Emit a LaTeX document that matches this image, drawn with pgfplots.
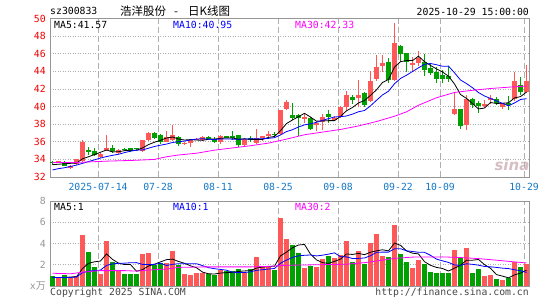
\documentclass[border=0pt]{standalone}
\usepackage{pgfplots}
\pgfplotsset{compat=1.18}
\usepackage{pgfplotstable}
\usepackage{fontspec}
\setmainfont{DejaVu Sans Mono}
\newfontfamily\mono{DejaVu Sans Mono}
\newfontfamily\cjk{Noto Sans CJK SC}
\newfontfamily\sansf{DejaVu Sans}
\newcommand\tf{\fontsize{9.8}{11}\mono}
\definecolor{upred}{RGB}{255,88,88}
\definecolor{dngreen}{RGB}{0,160,0}
\definecolor{maten}{RGB}{0,0,255}
\definecolor{mathirty}{RGB}{255,0,255}
\definecolor{framegray}{RGB}{150,150,150}
\definecolor{gridgray}{RGB}{175,175,175}
\definecolor{datecol}{RGB}{20,120,200}
\definecolor{tickred}{RGB}{240,0,0}
\definecolor{tickgray}{RGB}{150,150,150}
\definecolor{txtgray}{RGB}{70,70,70}
\definecolor{logocol}{RGB}{215,190,195}

\pgfplotstableread{
i O H L C V
2 33.65 33.85 33.6 33.8 0.76
4 33.05 33.35 32.95 33.3 0.76
5 33.45 34.05 33.35 34.0 0.91
6 33.8 36.2 33.75 36.0 4.79
9 34.3 34.7 34.2 34.58 1.13
10 35.1 36.8 34.95 35.3 4.22
12 34.7 35.15 34.6 35.05 1.39
16 34.95 36.25 34.85 36.2 3.0
17 36.2 37.15 36.1 36.95 3.09
20 36.0 37.2 35.95 36.55 2.14
21 36.2 37.95 36.1 36.75 3.28
23 35.8 35.95 35.6 35.9 1.1
24 35.85 36.3 35.45 36.25 1.0
25 36.25 36.4 36.15 36.3 1.23
26 36.2 36.6 36.15 36.55 1.23
29 36.0 36.75 35.8 36.65 1.48
33 35.6 36.4 35.5 36.35 1.23
35 35.9 37.5 35.8 36.45 2.71
36 36.55 36.7 36.05 36.6 1.8
37 36.75 37.2 36.3 36.8 1.8
39 36.9 39.65 36.8 39.6 6.43
40 39.7 40.8 39.6 40.5 4.44
43 38.7 39.2 38.1 38.75 1.7
45 37.9 38.35 37.25 38.15 1.76
46 38.25 39.2 37.3 38.8 2.52
48 38.45 38.9 38.4 38.75 2.65
49 38.85 40.1 38.75 39.95 2.9
50 39.95 41.8 39.6 41.3 4.25
52 41.0 43.0 40.0 41.35 3.28
54 40.6 44.0 40.5 42.85 4.06
55 43.15 45.9 42.95 44.45 4.88
56 44.55 45.8 43.9 44.9 2.8
58 43.0 49.45 42.9 47.2 5.73
61 44.85 45.6 43.9 44.9 1.7
62 44.9 46.35 44.6 45.5 2.43
68 39.1 41.7 39.0 39.7 3.37
70 37.95 41.35 37.35 40.9 3.62
73 40.15 40.75 39.8 40.2 0.91
74 40.7 41.35 40.25 40.95 1.0
76 39.95 40.4 39.75 40.35 0.54
78 40.9 43.9 40.6 42.95 2.27
80 41.7 44.75 41.5 42.95 2.05
}\upT

\pgfplotstableread{
i O H L C V
1 33.75 33.85 33.4 33.55 0.91
3 33.7 33.8 33.2 33.25 1.0
7 35.05 35.45 34.55 34.95 3.18
8 34.95 35.25 34.4 34.5 1.76
11 35.35 35.6 34.7 34.9 2.27
13 35.15 35.25 34.95 35.1 1.1
14 35.25 35.35 34.8 34.9 1.1
15 35.3 35.35 35.1 35.25 1.1
18 37.0 37.1 36.3 36.45 1.98
19 36.75 36.9 35.8 36.0 2.17
22 36.55 36.65 35.55 35.8 2.0
27 36.5 36.65 36.35 36.45 1.17
28 36.35 36.55 35.9 36.0 1.0
30 36.6 36.7 36.45 36.55 1.42
31 36.6 37.2 36.2 36.55 1.39
32 36.75 36.8 35.45 35.6 1.57
34 36.35 36.6 35.95 36.3 1.57
38 36.9 37.1 36.6 36.85 1.48
41 39.0 40.4 38.45 38.65 3.84
42 39.0 39.2 36.65 38.65 3.12
44 38.7 38.8 37.3 37.5 1.89
47 39.2 39.6 38.15 38.8 2.8
51 41.1 41.3 40.3 40.7 2.27
53 41.5 41.6 40.0 40.15 2.05
57 45.1 45.5 42.65 43.0 2.74
59 46.9 47.0 45.2 45.95 2.99
60 46.05 46.05 43.9 45.05 2.27
63 45.05 46.0 43.45 44.1 2.05
64 44.35 44.85 43.6 43.8 1.32
65 43.98 44.5 42.7 43.1 1.23
66 43.6 44.1 42.7 43.15 1.23
67 43.45 44.65 42.8 43.1 1.23
69 39.7 39.7 37.5 37.8 2.68
71 40.9 40.95 39.85 40.2 1.26
72 40.4 40.6 39.3 40.05 1.57
75 40.9 41.1 40.2 40.35 0.63
77 40.35 41.2 39.6 40.3 0.79
79 42.5 43.4 41.35 41.7 1.8
}\dnT

\pgfplotstableread{
i m5 m10 vm5 vm10
1 33.40 32.80 0.80 0.80
2 33.45 32.95 0.80 0.80
3 33.50 33.05 0.80 0.80
4 33.55 33.20 0.85 0.80
5 33.58 33.35 0.87 0.85
6 34.07 33.55 1.64 1.25
7 34.30 33.75 2.13 1.40
8 34.55 33.95 2.28 1.45
9 34.81 34.15 2.35 1.50
10 35.07 34.32 3.02 1.94
11 34.85 34.46 2.51 2.08
12 34.87 34.58 2.15 2.14
13 34.99 34.77 2.02 2.15
14 35.05 34.93 2.02 2.19
15 35.04 35.05 1.39 2.20
16 35.30 35.07 1.54 2.03
17 35.68 35.27 1.88 2.02
18 35.95 35.47 2.05 2.04
19 36.17 35.61 2.27 2.14
20 36.43 35.74 2.48 1.93
21 36.54 35.92 2.53 2.04
22 36.31 36.00 2.31 2.10
23 36.20 36.08 2.14 2.10
24 36.25 36.21 1.90 2.09
25 36.20 36.31 1.72 2.10
26 36.16 36.35 1.31 1.92
27 36.29 36.30 1.15 1.73
28 36.31 36.25 1.13 1.63
29 36.39 36.32 1.22 1.56
30 36.44 36.32 1.26 1.49
31 36.44 36.30 1.29 1.30
32 36.27 36.28 1.37 1.26
33 36.34 36.32 1.42 1.27
34 36.27 36.33 1.44 1.33
35 36.25 36.35 1.69 1.48
36 36.26 36.35 1.78 1.53
37 36.50 36.39 1.82 1.60
38 36.60 36.47 1.87 1.65
39 37.26 36.77 2.84 2.14
40 38.07 37.16 3.19 2.44
41 38.48 37.37 3.60 2.69
42 38.85 37.68 3.86 2.84
43 39.23 37.92 3.91 2.89
44 38.81 38.04 3.00 2.92
45 38.34 38.21 2.46 2.83
46 38.37 38.43 2.20 2.90
47 38.40 38.63 2.13 3.00
48 38.40 38.82 2.32 3.12
49 38.89 38.85 2.53 2.76
50 39.52 38.93 3.02 2.74
51 39.90 39.14 2.97 2.59
52 40.41 39.41 3.07 2.60
53 40.69 39.55 2.95 2.64
54 41.27 40.08 3.18 2.85
55 41.90 40.71 3.31 3.17
56 42.74 41.32 3.41 3.19
57 43.07 41.74 3.31 3.19
58 44.48 42.59 4.04 3.50
59 45.10 43.19 3.83 3.51
60 45.22 43.56 3.31 3.31
61 45.22 43.98 3.09 3.25
62 45.72 44.40 3.02 3.17
63 45.10 44.79 2.29 3.17
64 44.67 44.89 1.95 2.89
65 44.28 44.75 1.75 2.53
66 43.93 44.58 1.65 2.37
67 43.45 44.59 1.41 2.22
68 42.57 43.84 1.68 1.98
69 41.37 43.02 1.95 1.95
70 40.93 42.61 2.43 2.09
71 40.34 42.14 2.43 2.04
72 39.73 41.59 2.50 1.96
73 39.83 41.20 2.01 1.84
74 40.46 40.92 1.67 1.81
75 40.35 40.64 1.07 1.75
76 40.38 40.36 0.93 1.68
77 40.43 40.08 0.77 1.64
78 40.98 40.41 1.05 1.53
79 41.13 40.80 1.21 1.44
80 41.65 40.90 1.49 1.28
}\maT

\pgfplotsset{kline/.style={
  scale only axis, width=479pt, xmin=0.583, xmax=80.42,
  axis line style={framegray, line width=0.8pt},
  major tick length=0pt,
  tick label style={font=\tf},
  /pgf/number format/assume math mode=true,
  xtick={8.6,18.6,28.6,38.6,48.6,58.6,65.6,79.6},
  xmajorgrids, ymajorgrids,
  major x grid style={gridgray, dash pattern=on 6pt off 3pt, line width=0.8pt},
  major y grid style={gridgray, dash pattern=on 1pt off 1.5pt, line width=0.8pt},
}}

\begin{document}
\begin{tikzpicture}
\useasboundingbox (0,0) rectangle (545pt,-300pt);

\node[inner sep=0pt, font=\fontsize{15}{16}\sansf\bfseries\itshape, text=logocol] at (512pt,-165pt) {sina};

% ---------- price panel ----------
\begin{axis}[kline, at={(50pt,-177pt)}, anchor=south west, height=158.5pt,
  ymin=32, ymax=50, ytick={32,34,...,50},
  yticklabel style={text=tickred, anchor=east, inner sep=0pt, xshift=-4pt},
  xticklabels={2025-07-14,07-28,08-11,08-25,09-08,09-22,10-09,10-29},
  xticklabel style={text=datecol, anchor=north, inner sep=0pt, yshift=-6pt}]
% wicks
\addplot[draw=none, mark=none, forget plot, error bars/.cd, y dir=both, y explicit, error mark=none,
  error bar style={draw=upred, solid, line width=1pt}]
  table[x=i, y expr={(\thisrow{H}+\thisrow{L})/2}, y error expr={(\thisrow{H}-\thisrow{L})/2}]{\upT};
\addplot[draw=none, mark=none, forget plot, error bars/.cd, y dir=both, y explicit, error mark=none,
  error bar style={draw=dngreen, solid, line width=1pt}]
  table[x=i, y expr={(\thisrow{H}+\thisrow{L})/2}, y error expr={(\thisrow{H}-\thisrow{L})/2}]{\dnT};
% bodies
\addplot[draw=none, mark=none, forget plot, error bars/.cd, y dir=both, y explicit, error mark=none,
  error bar style={draw=upred, solid, line width=5pt}]
  table[x=i, y expr={(\thisrow{O}+\thisrow{C})/2}, y error expr={max(abs(\thisrow{C}-\thisrow{O})/2,0.06)}]{\upT};
\addplot[draw=none, mark=none, forget plot, error bars/.cd, y dir=both, y explicit, error mark=none,
  error bar style={draw=dngreen, solid, line width=5pt}]
  table[x=i, y expr={(\thisrow{O}+\thisrow{C})/2}, y error expr={max(abs(\thisrow{C}-\thisrow{O})/2,0.06)}]{\dnT};
% moving averages
\addplot[black, line width=0.8pt, mark=none] table[x=i, y=m5]{\maT};
\addplot[maten, line width=0.8pt, mark=none] table[x=i, y=m10]{\maT};
\addplot[mathirty, line width=0.8pt, mark=none] coordinates {
(1,33.65) (5,33.65) (10,33.8) (15,33.9) (18,34.0) (20,34.3) (22,34.5) (25,34.7) (28,35.05)
(31,35.3) (34,35.55) (37,35.85) (40,36.3) (43,36.8) (46,37.1) (49,37.4) (52,37.8) (55,38.3)
(58,38.9) (60,39.4) (62,40.15) (65,41.0) (68,41.6) (71,41.85) (74,42.05) (77,42.2) (80,42.33)};
\end{axis}

% ---------- volume panel ----------
\begin{axis}[kline, at={(50pt,-286pt)}, anchor=south west, height=85pt,
  ymin=0, ymax=8, ytick={0,2,4,6,8},
  yticklabels={{x{\fontsize{10}{11}\cjk 万}},2,4,6,8},
  yticklabel style={text=tickgray, anchor=east, inner sep=0pt, xshift=-4pt},
  xticklabels={,,,,,,,}]
\addplot[ycomb, upred, line width=5pt, mark=none] table[x=i, y=V]{\upT};
\addplot[ycomb, dngreen, line width=5pt, mark=none] table[x=i, y=V]{\dnT};
\addplot[black, line width=0.8pt, mark=none] table[x=i, y=vm5]{\maT};
\addplot[maten, line width=0.8pt, mark=none] table[x=i, y=vm10]{\maT};
\addplot[mathirty, line width=0.8pt, mark=none] coordinates {
(1,1.2) (4,1.15) (6,1.3) (9,1.45) (13,1.45) (15,1.4) (17,1.5) (20,1.6) (22,1.75) (26,1.8)
(30,1.8) (34,1.8) (37,1.85) (40,1.95) (45,2.0) (50,2.05) (53,2.2) (55,2.35) (58,2.6)
(61,2.72) (66,2.74) (69,2.68) (72,2.58) (75,2.43) (78,2.27) (80,2.17)};
\end{axis}

% ---------- texts ----------
\node[anchor=west, inner sep=0pt, font=\tf] at (50pt,-11pt) {sz300833};
\node[anchor=west, inner sep=0pt, font=\fontsize{11.5}{13}\cjk] at (120pt,-11pt) {浩洋股份\hspace{8pt}-\hspace{10pt}日K线图};
\node[anchor=east, inner sep=0pt, font=\tf] at (529pt,-12pt) {2025-10-29 15:00:00};

\node[anchor=west, inner sep=0pt, font=\tf] at (54pt,-24.5pt) {MA5:41.57};
\node[anchor=west, inner sep=0pt, font=\tf, text=maten] at (173pt,-24.5pt) {MA10:40.95};
\node[anchor=west, inner sep=0pt, font=\tf, text=mathirty] at (295pt,-24.5pt) {MA30:42.33};

\node[anchor=west, inner sep=0pt, font=\tf] at (54pt,-207pt) {MA5:1};
\node[anchor=west, inner sep=0pt, font=\tf, text=maten] at (173pt,-207pt) {MA10:1};
\node[anchor=west, inner sep=0pt, font=\tf, text=mathirty] at (295pt,-207pt) {MA30:2};

\node[anchor=west, inner sep=0pt, font=\tf, text=txtgray] at (50pt,-293pt) {Copyright 2025 SINA.COM};
\node[anchor=east, inner sep=0pt, font=\tf, text=txtgray] at (529pt,-293pt) {http://finance.sina.com.cn};
\end{tikzpicture}
\end{document}
